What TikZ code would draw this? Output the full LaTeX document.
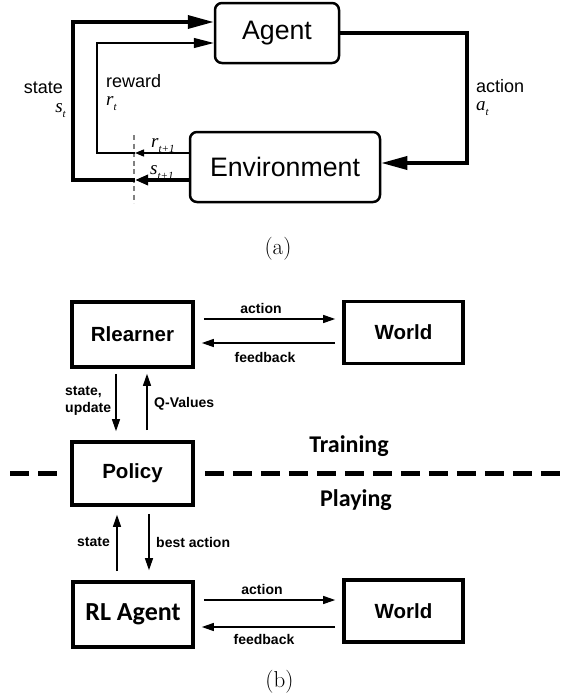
\documentclass[tikz,border=0pt]{standalone}
\usepackage{fontspec}
\newfontfamily\arialf{Liberation Sans}
\newfontfamily\serff{Liberation Serif}
\newfontfamily\calib{Carlito}
\usetikzlibrary{arrows.meta,calc}
\newcommand\isub[2]{{\serff\itshape #1}\raisebox{-0.3em}{\fontsize{11}{11}\selectfont\serff\itshape #2}}
\begin{document}
\begin{tikzpicture}[x=1pt,y=-1pt,
  rbox/.style={draw,line width=2.5pt,rounded corners=7pt,inner sep=0pt,font=\fontsize{26.7}{30}\selectfont\arialf},
  sbox/.style={draw,line width=3.6pt,inner sep=0pt,font=\fontsize{20.5}{24}\selectfont\arialf\bfseries},
  cbox/.style={draw,line width=3.6pt,inner sep=0pt,font=\fontsize{26}{30}\selectfont\calib\bfseries},
  thk/.style={line width=3.5pt,line join=miter},
  thn/.style={line width=1.3pt,line join=miter},
  bigtip/.tip={Triangle[length=26pt,width=13pt]},
  medtip/.tip={Triangle[length=20pt,width=10pt]},
  dtipb/.tip={Triangle[length=13pt,width=10pt]},
  dtips/.tip={Triangle[length=9pt,width=7pt]},
  alab/.style={font=\fontsize{18}{20}\selectfont\arialf,inner sep=0pt},
  mlab/.style={font=\fontsize{19}{20}\selectfont,inner sep=0pt},
  blab/.style={font=\fontsize{14}{17}\selectfont\arialf\bfseries,inner sep=0pt},
  clab/.style={font=\fontsize{24}{28}\selectfont\calib\bfseries,inner sep=0pt},
  arr/.style={line width=1.2pt,-{Triangle[length=12pt,width=8pt]}},
  captxt/.style={font=\fontsize{23}{26}\selectfont,inner sep=0pt},
  sepline/.style={line width=5pt,dash pattern=on 19pt off 9pt},
  cutline/.style={line width=1.3pt,gray,dash pattern=on 5pt off 3.5pt}
]
\useasboundingbox (0,0) rectangle (560,696);
% ---------- (a) ----------
\node[rbox,minimum width=124pt,minimum height=60pt] (agent) at (277,33) {Agent};
\node[rbox,minimum width=190pt,minimum height=70pt] (env) at (285,167) {Environment};
\coordinate (sd) at (135,180);
\coordinate (rd) at (135,153);
\coordinate (sc1) at (73,180);
\coordinate (sc2) at (73,22);
\coordinate (rc1) at (97,153);
\coordinate (rc2) at (97,43);
\coordinate (ac1) at (467,33);
\coordinate (ac2) at (467,163);
\coordinate (dt) at (134,135);
\coordinate (db) at (134,203);
\draw[cutline] (dt) -- (db);
\draw[thk,-{dtipb}] (env.west |- sd) -- (sd);
\draw[thk,-{bigtip}] (sd) -- (sc1) -- (sc2) -- (agent.west |- sc2);
\draw[thn,-{dtips}] (env.west |- rd) -- (rd);
\draw[thn,-{medtip}] (rd) -- (rc1) -- (rc2) -- (agent.west |- rc2);
\draw[thk,-{bigtip}] (agent.east) -- (ac1) -- (ac2) -- (env.east |- ac2);
\node[alab,anchor=base east] (lstate) at (63,93) {state};
\node[mlab,anchor=base east] (lst) at (66,112) {\isub{s}{t}};
\node[alab,anchor=base west] (lrew) at (106,87) {reward};
\node[mlab,anchor=base west] (lrt) at (106,105) {\isub{r}{t}};
\node[alab,anchor=base west] (lact) at (476,92) {action};
\node[mlab,anchor=base west] (lat) at (476,110) {\isub{a}{t}};
\node[mlab,anchor=base west] (lrt1) at (151,147) {\isub{r}{t+1}};
\node[mlab,anchor=base west] (lst1) at (150,174) {\isub{s}{t+1}};
\node[captxt] (capa) at (278,249) {(a)};
% ---------- (b) ----------
\node[sbox,minimum width=121pt,minimum height=65pt] (rl) at (132.5,334.5) {Rlearner};
\node[sbox,minimum width=119pt,minimum height=62pt] (w1) at (403.5,332.5) {World};
\node[sbox,minimum width=121pt,minimum height=63pt] (pol) at (132.5,473.5) {Policy};
\node[cbox,minimum width=120pt,minimum height=65pt] (rla) at (133,614.5) {RL Agent};
\node[sbox,minimum width=119pt,minimum height=62pt] (w2) at (403.5,611) {World};
\coordinate (ya1) at (0,319);
\coordinate (yf1) at (0,343);
\coordinate (ya2) at (0,600);
\coordinate (yf2) at (0,627);
\coordinate (xsu) at (116,0);
\coordinate (xq) at (147,0);
\coordinate (xs) at (117,0);
\coordinate (xb) at (149,0);
\draw[arr,shorten <=9pt,shorten >=7pt] (rl.east |- ya1) -- (w1.west |- ya1);
\draw[arr,shorten <=7pt,shorten >=7pt] (w1.west |- yf1) -- (rl.east |- yf1);
\draw[arr,shorten <=5pt,shorten >=9pt] (xsu |- rl.south) -- (xsu |- pol.north);
\draw[arr,shorten <=10pt,shorten >=5pt] (xq |- pol.north) -- (xq |- rl.south);
\draw[arr,shorten <=9pt,shorten >=8pt] (xs |- rla.north) -- (xs |- pol.south);
\draw[arr,shorten <=7pt,shorten >=10pt] (xb |- pol.south) -- (xb |- rla.north);
\draw[arr,shorten <=9pt,shorten >=7pt] (rla.east |- ya2) -- (w2.west |- ya2);
\draw[arr,shorten <=7pt,shorten >=7pt] (w2.west |- yf2) -- (rla.east |- yf2);
\node[blab] (l1) at (261,308) {action};
\node[blab] (l2) at (265,357) {feedback};
\node[blab,align=left,anchor=west] (l3) at (65,401) {state,\\update};
\node[blab,anchor=west] (l4) at (154,404) {Q-Values};
\node[blab] (l5) at (93.5,542) {state};
\node[blab,anchor=west] (l6) at (156,542) {best action};
\node[blab] (l7) at (262,589) {action};
\node[blab] (l8) at (264,639) {feedback};
\node[clab] (tr) at (349,446) {Training};
\node[clab] (pl) at (356,500) {Playing};
\coordinate (dl1) at (10,473);
\coordinate (dl2) at (60,473);
\draw[sepline] (dl1) -- (dl2);
\draw[sepline] (pol.east |- dl1) ++(10,0) -- (560,473);
\node[captxt] (capb) at (279.5,682) {(b)};
\end{tikzpicture}
\end{document}
